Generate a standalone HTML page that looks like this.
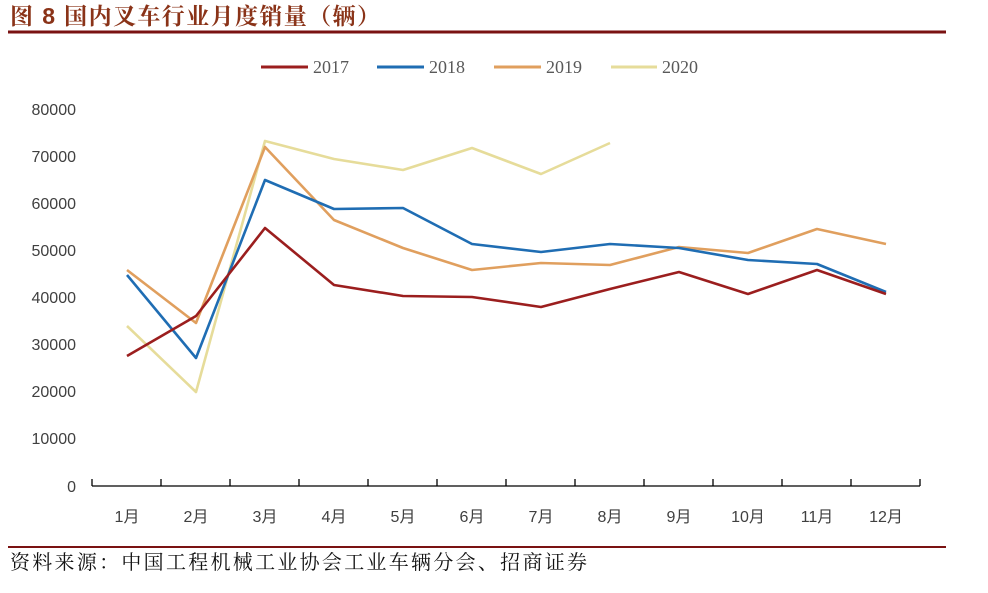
<!DOCTYPE html>
<html><head><meta charset="utf-8"><style>
body{margin:0;width:988px;height:588px;background:#fff;overflow:hidden;}
</style></head><body>
<svg width="988" height="588" xmlns="http://www.w3.org/2000/svg">
<text x="10" y="24" font-family="'Liberation Sans','Noto Serif CJK SC',serif" font-size="23" font-weight="bold" fill="#8a3318" textLength="370" lengthAdjust="spacing">图 8 国内叉车行业月度销量（辆）</text>
<line x1="8" y1="32" x2="946" y2="32" stroke="#7a1212" stroke-width="3"/>
<g font-family="'Liberation Serif','Noto Serif CJK SC',serif" font-size="18" fill="#595959">
<line x1="261" y1="67" x2="308" y2="67" stroke="#9b1e1e" stroke-width="3"/><text x="313" y="73">2017</text>
<line x1="377" y1="67" x2="424" y2="67" stroke="#1f6db3" stroke-width="3"/><text x="429" y="73">2018</text>
<line x1="494" y1="67" x2="541" y2="67" stroke="#e09f5e" stroke-width="3"/><text x="546" y="73">2019</text>
<line x1="611" y1="67" x2="657" y2="67" stroke="#e6dc9a" stroke-width="3"/><text x="662" y="73">2020</text>
</g>
<g font-family="'Liberation Sans',sans-serif" font-size="16" fill="#404040" text-anchor="end">
<text x="76" y="115">80000</text><text x="76" y="162">70000</text><text x="76" y="209">60000</text><text x="76" y="256">50000</text><text x="76" y="303">40000</text><text x="76" y="350">30000</text><text x="76" y="397">20000</text><text x="76" y="444">10000</text><text x="76" y="492">0</text>
</g>
<g stroke="#000" stroke-width="1.3">
<line x1="92" y1="486" x2="920" y2="486"/>
<line x1="92" y1="479" x2="92" y2="486"/><line x1="161" y1="479" x2="161" y2="486"/><line x1="230" y1="479" x2="230" y2="486"/><line x1="299" y1="479" x2="299" y2="486"/><line x1="368" y1="479" x2="368" y2="486"/><line x1="437" y1="479" x2="437" y2="486"/><line x1="506" y1="479" x2="506" y2="486"/><line x1="575" y1="479" x2="575" y2="486"/><line x1="644" y1="479" x2="644" y2="486"/><line x1="713" y1="479" x2="713" y2="486"/><line x1="782" y1="479" x2="782" y2="486"/><line x1="851" y1="479" x2="851" y2="486"/><line x1="920" y1="479" x2="920" y2="486"/>
</g>
<g font-family="'Liberation Sans','Noto Sans CJK SC',sans-serif" font-size="16" fill="#404040" text-anchor="middle">
<text x="127" y="522">1月</text><text x="196" y="522">2月</text><text x="265" y="522">3月</text><text x="334" y="522">4月</text><text x="403" y="522">5月</text><text x="472" y="522">6月</text><text x="541" y="522">7月</text><text x="610" y="522">8月</text><text x="679" y="522">9月</text><text x="748" y="522">10月</text><text x="817" y="522">11月</text><text x="886" y="522">12月</text>
</g>
<g fill="none" stroke-width="2.6" stroke-linejoin="round">
<polyline stroke="#e6dc9a" points="127,326 196,392 265,141 334,159 403,170 472,148 541,174 610,143"/>
<polyline stroke="#e09f5e" points="127,270 196,323 265,147 334,220 403,248 472,270 541,263 610,265 679,247 748,253 817,229 886,244"/>
<polyline stroke="#1f6db3" points="127,275 196,358 265,180 334,209 403,208 472,244 541,252 610,244 679,248 748,260 817,264 886,292"/>
<polyline stroke="#9b1e1e" points="127,356 196,316 265,228 334,285 403,296 472,297 541,307 610,289 679,272 748,294 817,270 886,294"/>
</g>
<line x1="8" y1="547" x2="946" y2="547" stroke="#7a1212" stroke-width="2"/>
<text x="10" y="569" font-family="'Liberation Serif','Noto Serif CJK SC',serif" font-size="20" fill="#111" textLength="577" lengthAdjust="spacing">资料来源：中国工程机械工业协会工业车辆分会、招商证券</text>
</svg>
</body></html>
